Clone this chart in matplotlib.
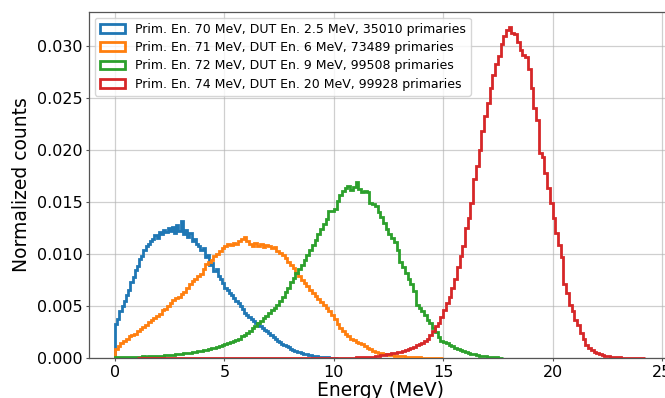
import numpy as np
import matplotlib
matplotlib.use("Agg")
import matplotlib.pyplot as plt

# ---------------- data (normalized counts per bin) -------------
labels = [
    "Prim. En. 70 MeV, DUT En. 2.5 MeV, 35010 primaries",
    "Prim. En. 71 MeV, DUT En. 6 MeV, 73489 primaries",
    "Prim. En. 72 MeV, DUT En. 9 MeV, 99508 primaries",
    "Prim. En. 74 MeV, DUT En. 20 MeV, 99928 primaries",
]
colors = ["#1f77b4", "#ff7f0e", "#2ca02c", "#d62728"]

# bin edges: (start, stop, width)
blue_bins = (0.0, 10.2, 0.1)
orange_bins = (0.0, 15.0, 0.125)
green_bins = (0.0, 17.75, 0.125)
red_bins = (1.0, 24.25, 0.125)

blue_counts = [
    0.0033, 0.0038, 0.0045, 0.0050, 0.0055, 0.0061, 0.0066, 0.0073, 0.0078, 0.0085,
    0.0089, 0.0095, 0.0098, 0.0104, 0.0108, 0.0110, 0.0113, 0.0115, 0.0118, 0.0116,
    0.0121, 0.0119, 0.0123, 0.0121, 0.0125, 0.0122, 0.0126, 0.0120, 0.0128, 0.0122,
    0.0132, 0.0119, 0.0123, 0.0117, 0.0120, 0.0113, 0.0115, 0.0110, 0.0108, 0.0104,
    0.0106, 0.0097, 0.0099, 0.0090, 0.0092, 0.0084, 0.0086, 0.0079, 0.0076, 0.0072,
    0.0068, 0.0066, 0.0063, 0.0061, 0.0058, 0.0055, 0.0053, 0.0050, 0.0047, 0.0044,
    0.0042, 0.0040, 0.0038, 0.0036, 0.0034, 0.0032, 0.0031, 0.0029, 0.0027, 0.0026,
    0.0024, 0.0022, 0.0020, 0.0019, 0.0017, 0.0016, 0.0014, 0.0013, 0.0012, 0.0011,
    0.0009, 0.0008, 0.0007, 0.0006, 0.0006, 0.0005, 0.0004, 0.0004, 0.0003, 0.0003,
    0.0002, 0.0002, 0.0002, 0.0001, 0.0001, 0.0001, 0.0001, 0.0001, 0.00005, 0.00005,
    0.00003, 0.00002,
]

orange_counts = [
    0.0009, 0.0012, 0.0015, 0.0017, 0.0019, 0.0021, 0.0022, 0.0023,
    0.0026, 0.0028, 0.0030, 0.0032, 0.0035, 0.0037, 0.0039, 0.0041,
    0.0043, 0.0046, 0.0047, 0.0050, 0.0053, 0.0056, 0.0058, 0.0059,
    0.0062, 0.0064, 0.0068, 0.0071, 0.0074, 0.0076, 0.0079, 0.0081,
    0.0086, 0.0091, 0.0093, 0.0094, 0.0098, 0.0100, 0.0103, 0.0106,
    0.0108, 0.0110, 0.0109, 0.0111, 0.0110, 0.0113, 0.0115, 0.0117,
    0.0113, 0.0110, 0.0108, 0.0111, 0.0108, 0.0110, 0.0107, 0.0109,
    0.0108, 0.0106, 0.0107, 0.0103, 0.0101, 0.0099, 0.0096, 0.0093,
    0.0090, 0.0087, 0.0082, 0.0079, 0.0075, 0.0072, 0.0069, 0.0066,
    0.0063, 0.0060, 0.0057, 0.0054, 0.0051, 0.0048, 0.0045, 0.0042,
    0.0038, 0.0033, 0.0029, 0.0026, 0.0023, 0.0021, 0.0019, 0.0018,
    0.0016, 0.0015, 0.0014, 0.0012, 0.0010, 0.0009, 0.0007, 0.0006,
    0.0005, 0.0005, 0.0004, 0.0004, 0.0003, 0.0003, 0.0002, 0.0002,
    0.0002, 0.0002, 0.0001, 0.0001, 0.0001, 0.0001, 0.0001, 0.0001,
    0.00005, 0.00005, 0.00005, 0.00004, 0.00003, 0.00003, 0.00002, 0.00002,
]

green_counts = [
    0.0001, 0.0001, 0.0001, 0.0001, 0.0001, 0.0001, 0.0001, 0.0001,
    0.0001, 0.0001, 0.0002, 0.0001, 0.0002, 0.0002, 0.0002, 0.0002,
    0.0002, 0.0002, 0.0003, 0.0003, 0.0003, 0.0003, 0.0004, 0.0004,
    0.0004, 0.0005, 0.0005, 0.0005, 0.0006, 0.0006, 0.0007, 0.0007,
    0.0008, 0.0008, 0.0009, 0.0010, 0.0010, 0.0011, 0.0012, 0.0013,
    0.0014, 0.0015, 0.0016, 0.0017, 0.0018, 0.0019, 0.0021, 0.0022,
    0.0024, 0.0026, 0.0029, 0.0031, 0.0034, 0.0036, 0.0039, 0.0041,
    0.0044, 0.0046, 0.0048, 0.0051, 0.0055, 0.0059, 0.0064, 0.0068,
    0.0073, 0.0077, 0.0082, 0.0086, 0.0090, 0.0094, 0.0099, 0.0104,
    0.0109, 0.0114, 0.0119, 0.0124, 0.0129, 0.0134, 0.0142, 0.0142,
    0.0143, 0.0151, 0.0157, 0.0161, 0.0164, 0.0166, 0.0162, 0.0165,
    0.0169, 0.0163, 0.0160, 0.0161, 0.0160, 0.0149, 0.0148, 0.0146,
    0.0141, 0.0136, 0.0130, 0.0124, 0.0119, 0.0116, 0.0112, 0.0104,
    0.0093, 0.0088, 0.0082, 0.0076, 0.0071, 0.0065, 0.0051, 0.0048,
    0.0045, 0.0042, 0.0037, 0.0034, 0.0029, 0.0025, 0.0020, 0.0017,
    0.0016, 0.0015, 0.0013, 0.0012, 0.0010, 0.0009, 0.0008, 0.0007,
    0.0006, 0.0005, 0.0004, 0.0004, 0.0003, 0.0002, 0.0002, 0.0002,
    0.0001, 0.0001, 0.0001, 0.0001, 0.00005, 0.00005,
]

red_counts = [
    # 1.0 - 8.0 MeV
    0.00001, 0.00001, 0.00001, 0.00001, 0.00001, 0.00001, 0.00001, 0.00001,
    0.00001, 0.00001, 0.00001, 0.00001, 0.00001, 0.00001, 0.00001, 0.00001,
    0.00001, 0.00001, 0.00001, 0.00001, 0.00001, 0.00001, 0.00001, 0.00001,
    0.00001, 0.00001, 0.00001, 0.00001, 0.00001, 0.00001, 0.00001, 0.00001,
    0.00001, 0.00001, 0.00001, 0.00001, 0.00001, 0.00001, 0.00001, 0.00001,
    0.00001, 0.00001, 0.00001, 0.00001, 0.00001, 0.00001, 0.00001, 0.00001,
    0.00001, 0.00001, 0.00001, 0.00001, 0.00001, 0.00001, 0.00001, 0.00001,
    # 8.0 - 12.0 MeV
    0.00002, 0.00002, 0.00002, 0.00002, 0.00002, 0.00002, 0.00003, 0.00003,
    0.00003, 0.00003, 0.00003, 0.00003, 0.00003, 0.00003, 0.00004, 0.00004,
    0.00005, 0.00005, 0.00005, 0.00005, 0.00005, 0.00006, 0.00006, 0.00007,
    0.00008, 0.00009, 0.0001, 0.0001, 0.00012, 0.00014, 0.00016, 0.00018,
    # 12.0 - 23.125 MeV
    0.0002, 0.0003, 0.0003, 0.0004, 0.0004, 0.0005, 0.0005, 0.0006,
    0.0006, 0.0007, 0.0008, 0.0009, 0.0010, 0.0011, 0.0013, 0.0014,
    0.0015, 0.0017, 0.0019, 0.0022, 0.0026, 0.0031, 0.0034, 0.0040,
    0.0046, 0.0053, 0.0059, 0.0068, 0.0076, 0.0088, 0.0098, 0.0108,
    0.0125, 0.0135, 0.0149, 0.0172, 0.0185, 0.0200, 0.0218, 0.0233,
    0.0245, 0.0260, 0.0272, 0.0283, 0.0290, 0.0302, 0.0310, 0.0315,
    0.0318, 0.0313, 0.0312, 0.0304, 0.0296, 0.0291, 0.0289, 0.0278,
    0.0260, 0.0240, 0.0229, 0.0197, 0.0193, 0.0178, 0.0164, 0.0149,
    0.0135, 0.0120, 0.0109, 0.0097, 0.0071, 0.0063, 0.0051, 0.0045,
    0.0037, 0.0032, 0.0024, 0.0019, 0.0013, 0.0010, 0.0008, 0.0006,
    0.0005, 0.0004, 0.0003, 0.0002, 0.0002, 0.00015, 0.0001, 0.0001,
    0.0001,
    # 23.125 - 24.25 MeV
    0.00005, 0.00005, 0.00004, 0.00004, 0.00003, 0.00003, 0.00002, 0.00002,
    0.00002,
]

series = [
    (blue_bins, blue_counts),
    (orange_bins, orange_counts),
    (green_bins, green_counts),
    (red_bins, red_counts),
]

# ---------------- figure ----------------
DPI = 100
fig = plt.figure(figsize=(6.65, 3.98), dpi=DPI)
W, H = 665, 398
left_px, right_px, top_px, bottom_px = 88.5, 672.0, 11.7, 358.3
ax = fig.add_axes([left_px / W, (H - bottom_px) / H,
                   (right_px - left_px) / W, (bottom_px - top_px) / H])

for (b, counts), lab, col in zip(series, labels, colors):
    start, stop, width = b
    n = len(counts)
    edges = np.linspace(start, start + n * width, n + 1)
    centers = 0.5 * (edges[:-1] + edges[1:])
    ax.hist(centers, bins=edges, weights=counts, histtype="step",
            color=col, linewidth=2.0, label=lab, zorder=3)

ax.set_xlim(-1.2125, 25.4625)
ax.set_ylim(0, 0.0333)
ax.set_xticks([0, 5, 10, 15, 20, 25])
ax.set_yticks([0.0, 0.005, 0.010, 0.015, 0.020, 0.025, 0.030])
ax.yaxis.set_major_formatter(matplotlib.ticker.FormatStrFormatter("%.3f"))

ax.grid(True, color="#b0b0b0", alpha=0.6, linewidth=0.9)
ax.set_axisbelow(True)
for s in ax.spines.values():
    s.set_color("#555555")
    s.set_linewidth(0.9)
ax.tick_params(axis="both", labelsize=11.5, length=2.0, width=0.8,
               color="#555555", pad=2.5)

ax.set_xlabel("Energy (MeV)", fontsize=13.5, labelpad=1)
ax.set_ylabel("Normalized counts", fontsize=13.5)

leg = ax.legend(loc="upper left", fontsize=9.0, handlelength=2.0,
                labelspacing=0.42, borderpad=0.4)
leg.set_zorder(5)

fig.savefig("out.png", dpi=DPI)
